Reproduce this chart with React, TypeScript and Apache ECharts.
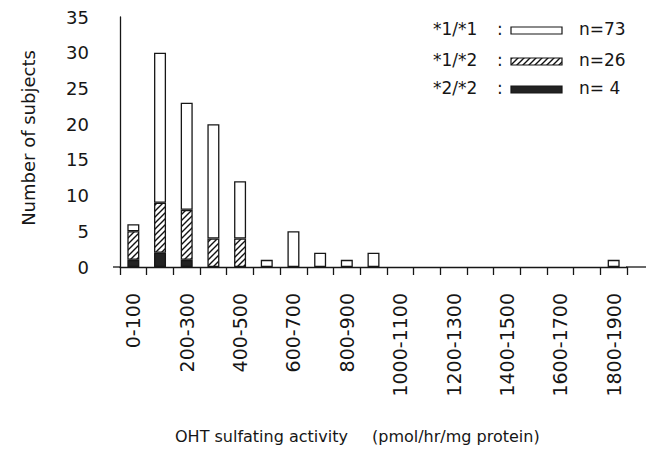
import React, { useEffect, useRef } from 'react';
import * as echarts from 'echarts';

const categories = [
  '0-100', '100-200', '200-300', '300-400', '400-500', '500-600', '600-700',
  '700-800', '800-900', '900-1000', '1000-1100', '1100-1200', '1200-1300',
  '1300-1400', '1400-1500', '1500-1600', '1600-1700', '1700-1800', '1800-1900',
];
const genotype22 = [1, 2, 1, 0, 0, 0, 0, 0, 0, 0, 0, 0, 0, 0, 0, 0, 0, 0, 0];
const genotype12 = [4, 7, 7, 4, 4, 0, 0, 0, 0, 0, 0, 0, 0, 0, 0, 0, 0, 0, 0];
const genotype11 = [1, 21, 15, 16, 8, 1, 5, 2, 1, 2, 0, 0, 0, 0, 0, 0, 0, 0, 1];
const yMin = 0;
const yMax = 35;
const yStep = 5;
const legendLabels = ['*1/*1', '*1/*2', '*2/*2'];
const legendCounts = ['n=73', 'n=26', 'n= 4'];
const yTitle = 'Number of subjects';
const xTitleMain = 'OHT sulfating activity';
const xTitleUnit = '(pmol/hr/mg protein)';

const FONT = 'DejaVu Sans';
const INK = '#161616';

function makeHatch(): string {
  const c = document.createElement('canvas');
  c.width = 6;
  c.height = 6;
  const g = c.getContext('2d')!;
  g.fillStyle = '#ffffff';
  g.fillRect(0, 0, 6, 6);
  g.strokeStyle = '#111';
  g.lineWidth = 1.4;
  g.beginPath();
  g.moveTo(-1, 7);
  g.lineTo(7, -1);
  g.moveTo(-1, 1);
  g.lineTo(1, -1);
  g.moveTo(5, 7);
  g.lineTo(7, 5);
  g.stroke();
  return c.toDataURL();
}

const skipZero = (arr: number[]) => arr.map((v) => (v === 0 ? '-' : v));

export default function App() {
  const ref = useRef<HTMLDivElement>(null);
  useEffect(() => {
    if (!ref.current) return;
    const chart = echarts.init(ref.current, undefined, { renderer: 'svg' });
    const hatch: any = { image: makeHatch(), repeat: 'repeat', imageWidth: 6, imageHeight: 6 };
    const fills = ['#ffffff', hatch, '#222222'];
    const rowY = [30, 61, 89];
    const legendGraphics: any[] = [];
    legendLabels.forEach((lab, i) => {
      legendGraphics.push(
        { type: 'text', left: 433, top: rowY[i] - 10, style: { text: lab, font: `17px "${FONT}"`, fill: INK } },
        { type: 'text', left: 497, top: rowY[i] - 10, style: { text: ':', font: `17px "${FONT}"`, fill: INK } },
        { type: 'rect', shape: { x: 511, y: rowY[i] - 3, width: 51, height: 7 }, style: { fill: fills[i], stroke: INK, lineWidth: 1.2 } },
        { type: 'text', left: 579, top: rowY[i] - 10, style: { text: legendCounts[i], font: `17px "${FONT}"`, fill: INK } },
      );
    });
    const barStyle = { borderColor: INK, borderWidth: 1.3 };
    chart.setOption({
      animation: false,
      backgroundColor: '#ffffff',
      grid: { left: 120, right: 21, top: 17, bottom: 195, containLabel: false, outerBoundsMode: 'none' },
      xAxis: {
        type: 'category',
        data: categories,
        axisLine: { lineStyle: { color: INK, width: 1.3 } },
        axisTick: { show: true, interval: 0, length: 8, lineStyle: { color: INK, width: 1.3 } },
        axisLabel: {
          interval: 1,
          rotate: 90,
          margin: 26,
          fontFamily: FONT,
          fontSize: 19,
          color: INK,
        },
      },
      yAxis: {
        type: 'value',
        min: yMin,
        max: yMax,
        interval: yStep,
        splitLine: { show: false },
        axisLine: { show: true, lineStyle: { color: INK, width: 1.3 } },
        axisTick: { show: false },
        axisLabel: { margin: 31, fontFamily: FONT, fontSize: 18, color: INK },
      },
      series: [
        { name: '*2/*2', type: 'bar', stack: 'g', barWidth: 12, data: skipZero(genotype22), itemStyle: { color: fills[2], ...barStyle } },
        { name: '*1/*2', type: 'bar', stack: 'g', barWidth: 12, data: skipZero(genotype12), itemStyle: { color: hatch, ...barStyle } },
        { name: '*1/*1', type: 'bar', stack: 'g', barWidth: 12, data: skipZero(genotype11), itemStyle: { color: fills[0], ...barStyle } },
      ],
      graphic: [
        { type: 'line', shape: { x1: 113, y1: 267, x2: 121, y2: 267 }, style: { stroke: INK, lineWidth: 1.3 } },
        { type: 'line', shape: { x1: 626, y1: 267, x2: 646, y2: 267 }, style: { stroke: INK, lineWidth: 1.3 } },
        {
          type: 'text', x: 28, y: 138, rotation: Math.PI / 2,
          style: { text: yTitle, font: `18px "${FONT}"`, fill: INK, align: 'center', verticalAlign: 'middle' },
        },
        { type: 'text', x: 175, y: 436, style: { text: xTitleMain, font: `16px "${FONT}"`, fill: INK, verticalAlign: 'middle' } },
        { type: 'text', x: 372, y: 436, style: { text: xTitleUnit, font: `16px "${FONT}"`, fill: INK, verticalAlign: 'middle' } },
        ...legendGraphics,
      ],
    });
    return () => chart.dispose();
  }, []);
  return <div ref={ref} style={{ position: 'fixed', left: 0, top: 0, width: 648, height: 462 }} />;
}
